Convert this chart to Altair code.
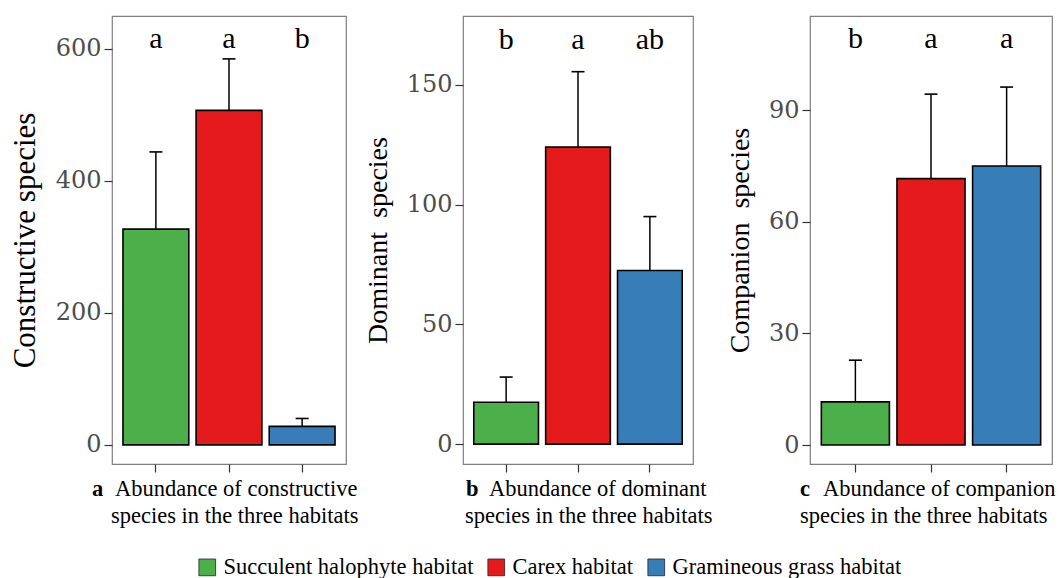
import altair as alt
import pandas as pd

habitats = ["Succulent halophyte habitat", "Carex habitat", "Gramineous grass habitat"]
colors = ["#4DAF4A", "#E41A1C", "#377EB8"]

constructive_mean = [327, 507, 28]
constructive_se = [117, 78, 12]
constructive_letters = ["a", "a", "b"]

dominant_mean = [17.5, 124, 72.5]
dominant_se = [10.5, 31.5, 22.5]
dominant_letters = ["b", "a", "ab"]

companion_mean = [11.6, 71.6, 75]
companion_se = [11.2, 22.7, 21.2]
companion_letters = ["b", "a", "a"]

y_titles = ["Constructive species", "Dominant\u00a0 species", "Companion\u00a0 species"]
y_ticks = [[0, 200, 400, 600], [0, 50, 100, 150], [0, 30, 60, 90]]
y_domains = [[-29, 650], [-8.3, 178.75], [-5.1, 115.3]]
letter_levels = [601, 165, 106.7]

caption_tags = ["a", "b", "c"]
caption_lines = [
    ["Abundance of constructive", "species in the three habitats"],
    ["Abundance of dominant", "species in the three habitats"],
    ["Abundance of companion", "species in the three habitats"],
]

FONT = "'Liberation Serif', 'Times New Roman', Times, serif"
TICKFONT = "'DejaVu Serif', serif"


def panel(mean, se, letters, ytitle, ticks, domain, letter_y, width, tag, lines,
          cap_x, title_size):
    df = pd.DataFrame({
        "habitat": habitats,
        "mean": mean,
        "upper": [m + s for m, s in zip(mean, se)],
        "letter": letters,
        "ly": [letter_y] * 3,
    })
    x = alt.X("habitat:N", sort=habitats,
              scale=alt.Scale(paddingInner=0.1, paddingOuter=0.15),
              axis=alt.Axis(labels=False, title=None, ticks=True, domain=False,
                            tickSize=8, tickColor="#333333", tickWidth=1.2))
    yscale = alt.Scale(domain=domain, nice=False, zero=False)
    yaxis = alt.Axis(values=ticks, title=ytitle, titleFontSize=title_size,
                     grid=False, domain=False)
    base = alt.Chart(df)
    rule = base.mark_rule(color="black", strokeWidth=1.5).encode(
        x=x, y=alt.Y("mean:Q", scale=yscale, axis=yaxis), y2="upper:Q")
    cap = base.mark_tick(color="black", size=13, thickness=1.6, opacity=1).encode(
        x=x, y=alt.Y("upper:Q"))
    bars = base.mark_bar(stroke="black", strokeWidth=1.6, opacity=1).encode(
        x=x, y=alt.Y("mean:Q"), y2=alt.datum(0),
        color=alt.Color("habitat:N", sort=habitats,
                        scale=alt.Scale(domain=habitats, range=colors),
                        legend=alt.Legend(orient="none", legendX=84, legendY=540,
                                          direction="horizontal", columns=3,
                                          title=None, symbolType="square",
                                          symbolSize=280, symbolStrokeColor="#222222",
                                          symbolStrokeWidth=0.8, symbolOpacity=1,
                                          labelFont=FONT, labelFontSize=22.5,
                                          labelColor="black", labelOffset=5,
                                          columnPadding=11, labelLimit=400)))
    text = base.mark_text(font=FONT, fontSize=30, baseline="alphabetic",
                          color="black").encode(
        x=x, y=alt.Y("ly:Q"), text="letter:N")

    cdf = pd.DataFrame({"tag": [tag], "l1": [lines[0]], "l2": [lines[1]]})
    cbase = alt.Chart(cdf)
    c0 = cbase.mark_text(font=FONT, fontSize=22.5, fontWeight="bold", align="left",
                         baseline="alphabetic", color="black").encode(
        x=alt.value(cap_x[0]), y=alt.value(480), text="tag:N")
    c1 = cbase.mark_text(font=FONT, fontSize=22.5, align="left",
                         baseline="alphabetic", color="black").encode(
        x=alt.value(cap_x[1]), y=alt.value(480), text="l1:N")
    c2 = cbase.mark_text(font=FONT, fontSize=22.5, align="left",
                         baseline="alphabetic", color="black").encode(
        x=alt.value(cap_x[2]), y=alt.value(507), text="l2:N")

    return alt.layer(rule, cap, bars, text, c0, c1, c2).properties(
        width=width, height=448)


p1 = panel(constructive_mean, constructive_se, constructive_letters, y_titles[0],
           y_ticks[0], y_domains[0], letter_levels[0], 234, caption_tags[0],
           caption_lines[0], (-20, 3, -1), 31)
p2 = panel(dominant_mean, dominant_se, dominant_letters, y_titles[1],
           y_ticks[1], y_domains[1], letter_levels[1], 230, caption_tags[1],
           caption_lines[1], (3, 26, 2), 28)
p3 = panel(companion_mean, companion_se, companion_letters, y_titles[2],
           y_ticks[2], y_domains[2], letter_levels[2], 242, caption_tags[2],
           caption_lines[2], (-10, 13, -10), 28)

chart = alt.hconcat(p1, p2, p3, spacing=117, bounds="flush").resolve_scale(
    color="shared").properties(
    padding={"left": 8, "top": 15, "right": 0, "bottom": 0},
    background="white",
).configure_view(stroke="#7f7f7f", strokeWidth=1.2).configure_axisY(
    labelFont=TICKFONT, labelFontSize=24, labelColor="#4d4d4d", labelPadding=3,
    tickSize=8, tickColor="#333333", tickWidth=1.2,
    titleFont=FONT, titleColor="black", titleFontWeight="normal", titlePadding=14,
)

chart.save("out.html", embed_options={"renderer": "svg", "actions": False})
